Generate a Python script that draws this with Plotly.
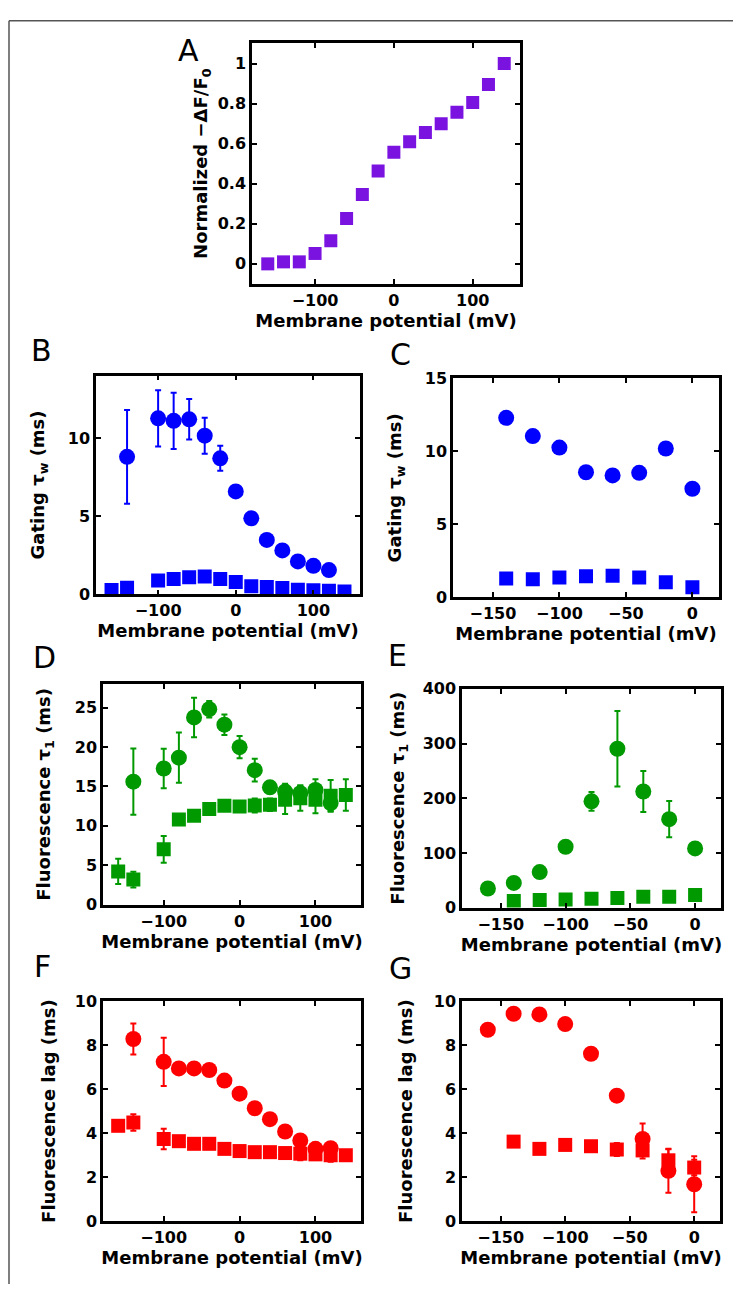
import plotly.graph_objects as go

W, H = 733, 1294

# ---------------- data ----------------
# Panel A
a_v = [-160, -140, -120, -100, -80, -60, -40, -20, 0, 20, 40, 60, 80, 100, 120, 140]
a_f = [0.0, 0.01, 0.01, 0.052, 0.116, 0.226, 0.346, 0.464, 0.557, 0.61, 0.656, 0.70, 0.757, 0.805, 0.895, 1.0]

# Panel B
b_circ_v = [-140, -100, -80, -60, -40, -20, 0, 20, 40, 60, 80, 100, 120]
b_circ = [8.8, 11.26, 11.1, 11.2, 10.15, 8.7, 6.58, 4.86, 3.48, 2.81, 2.1, 1.82, 1.55]
b_circ_err = [3.0, 1.8, 1.8, 1.3, 1.15, 0.8, 0, 0, 0, 0, 0, 0, 0]
b_sq_v = [-160, -140, -100, -80, -60, -40, -20, 0, 20, 40, 60, 80, 100, 120, 140]
b_sq = [0.27, 0.42, 0.88, 0.98, 1.09, 1.13, 0.98, 0.78, 0.52, 0.46, 0.40, 0.29, 0.25, 0.23, 0.17]

# Panel C
c_v = [-140, -120, -100, -80, -60, -40, -20, 0]
c_circ = [12.3, 11.05, 10.26, 8.57, 8.35, 8.53, 10.2, 7.44]
c_sq = [1.29, 1.24, 1.35, 1.44, 1.47, 1.35, 1.02, 0.68]

# Panel D
d_circ_v = [-140, -100, -80, -60, -40, -20, 0, 20, 40, 60, 80, 100, 120]
d_circ = [15.6, 17.27, 18.65, 23.75, 24.8, 22.83, 19.98, 17.06, 14.88, 14.34, 14.13, 14.55, 12.88]
d_circ_err = [4.2, 2.5, 3.2, 2.5, 1.05, 1.3, 1.4, 1.45, 0.5, 1.0, 1.0, 1.35, 1.0]
d_sq_v = [-160, -140, -100, -80, -60, -40, -20, 0, 20, 40, 60, 80, 100, 120, 140]
d_sq = [4.22, 3.18, 7.02, 10.79, 11.29, 12.12, 12.54, 12.46, 12.58, 12.67, 13.3, 13.5, 13.3, 13.8, 13.92]
d_sq_err = [1.6, 1.0, 1.7, 0, 0, 0, 0, 0.6, 0.9, 0.8, 1.8, 1.6, 1.7, 2.0, 2.0]

# Panel E
e_circ_v = [-160, -140, -120, -100, -80, -60, -40, -20, 0]
e_circ = [34.9, 45.1, 65.0, 111.3, 194.3, 290.5, 212.3, 161.8, 108.3]
e_circ_err = [0, 0, 0, 0, 17, 69, 37.6, 33, 0]
e_sq_v = [-140, -120, -100, -80, -60, -40, -20, 0]
e_sq = [12.0, 13.8, 15.0, 16.2, 17.4, 19.8, 19.8, 22.9]

# Panel F
f_circ_v = [-140, -100, -80, -60, -40, -20, 0, 20, 40, 60, 80, 100, 120]
f_circ = [8.28, 7.24, 6.94, 6.94, 6.87, 6.39, 5.79, 5.13, 4.63, 4.07, 3.66, 3.28, 3.31]
f_circ_err = [0.7, 1.1, 0, 0, 0, 0, 0, 0, 0, 0, 0, 0, 0]
f_sq_v = [-160, -140, -100, -80, -60, -40, -20, 0, 20, 40, 60, 80, 100, 120, 140]
f_sq = [4.33, 4.48, 3.73, 3.63, 3.51, 3.51, 3.28, 3.18, 3.13, 3.13, 3.09, 3.06, 3.03, 2.99, 2.99]
f_sq_err = [0, 0.37, 0.47, 0, 0, 0, 0, 0, 0, 0, 0, 0.3, 0, 0.3, 0]

# Panel G
g_circ_v = [-160, -140, -120, -100, -80, -60, -40, -20, 0]
g_circ = [8.7, 9.43, 9.4, 8.96, 7.61, 5.7, 3.73, 2.28, 1.67]
g_circ_err = [0, 0, 0, 0, 0.25, 0, 0.7, 1.0, 1.27]
g_sq_v = [-140, -120, -100, -80, -60, -40, -20, 0]
g_sq = [3.61, 3.28, 3.46, 3.40, 3.25, 3.21, 2.76, 2.43]
g_sq_err = [0, 0, 0, 0, 0.3, 0.37, 0.5, 0.35]

PURPLE = "#7a12e0"
BLUE = "#0000ff"
GREEN = "#009900"
RED = "#ff0000"

XT = "Membrane potential (mV)"
FONT = "DejaVu Sans"

# ---------------- layout geometry (pixels) ----------------
panels = {
    # name: (x0, x1, ytop, ybottom)
    "A": (252, 520, 35, 279),
    "B": (96, 360, 372, 594),
    "C": (453, 719, 375, 597),
    "D": (103, 361, 685, 909),
    "E": (462, 721, 690, 912),
    "F": (103, 361, 1007, 1230),
    "G": (462, 720, 1007, 1230),
}
order = ["A", "B", "C", "D", "E", "F", "G"]
ystandoff = {"A": 6, "B": 19, "C": 19, "D": 20, "E": 14, "F": 15, "G": 17}

fig = go.Figure()


def add_pts(idx, x, y, color, symbol, size, err=None):
    tr = dict(x=x, y=y, mode="markers",
              marker=dict(color=color, symbol=symbol, size=size, line=dict(width=0)),
              xaxis="x" if idx == 1 else f"x{idx}",
              yaxis="y" if idx == 1 else f"y{idx}",
              showlegend=False)
    if err is not None:
        tr["error_y"] = dict(type="data", array=err, visible=True, color=color,
                             thickness=2, width=3)
    fig.add_trace(go.Scatter(**tr))


CS, SS = 16, 14
add_pts(1, a_v, a_f, PURPLE, "square", 13)
add_pts(2, b_circ_v, b_circ, BLUE, "circle", CS, b_circ_err)
add_pts(2, b_sq_v, b_sq, BLUE, "square", SS)
add_pts(3, c_v, c_circ, BLUE, "circle", CS)
add_pts(3, c_v, c_sq, BLUE, "square", SS)
add_pts(4, d_circ_v, d_circ, GREEN, "circle", CS, d_circ_err)
add_pts(4, d_sq_v, d_sq, GREEN, "square", SS, d_sq_err)
add_pts(5, e_circ_v, e_circ, GREEN, "circle", CS, e_circ_err)
add_pts(5, e_sq_v, e_sq, GREEN, "square", SS)
add_pts(6, f_circ_v, f_circ, RED, "circle", CS, f_circ_err)
add_pts(6, f_sq_v, f_sq, RED, "square", SS, f_sq_err)
add_pts(7, g_sq_v, g_sq, RED, "square", SS, g_sq_err)
add_pts(7, g_circ_v, g_circ, RED, "circle", CS, g_circ_err)

xranges = {"A": [-180, 160], "B": [-180, 160], "C": [-180, 20], "D": [-180, 160],
           "E": [-180, 20], "F": [-180, 160], "G": [-180, 20]}
xticks = {"A": [-100, 0, 100], "B": [-100, 0, 100], "C": [-150, -100, -50, 0],
          "D": [-100, 0, 100], "E": [-150, -100, -50, 0], "F": [-100, 0, 100],
          "G": [-150, -100, -50, 0]}
yranges = {"A": [-0.1, 1.1], "B": [0, 14], "C": [0, 15], "D": [0, 28],
           "E": [0, 400], "F": [0, 10], "G": [0, 10]}
yticks = {"A": [0, 0.2, 0.4, 0.6, 0.8, 1], "B": [0, 5, 10], "C": [0, 5, 10, 15],
          "D": [0, 5, 10, 15, 20, 25], "E": [0, 100, 200, 300, 400],
          "F": [0, 2, 4, 6, 8, 10], "G": [0, 2, 4, 6, 8, 10]}
ytitles = {"A": "Normalized −ΔF/F<sub>0</sub>", "B": "Gating τ<sub>w</sub> (ms)",
           "C": "Gating τ<sub>w</sub> (ms)", "D": "Fluorescence τ<sub>1</sub> (ms)",
           "E": "Fluorescence τ<sub>1</sub> (ms)", "F": "Fluorescence lag (ms)",
           "G": "Fluorescence lag (ms)"}

common = dict(showline=True, linecolor="black", linewidth=2.5, mirror="ticks",
              ticks="inside", ticklen=5, tickwidth=2, tickcolor="black",
              showgrid=False, zeroline=False,
              tickfont=dict(family=FONT, size=16, color="black", weight="bold"))

layout = {}
for i, p in enumerate(order, start=1):
    x0, x1, yt, yb = panels[p]
    xk = "xaxis" if i == 1 else f"xaxis{i}"
    yk = "yaxis" if i == 1 else f"yaxis{i}"
    ya = "y" if i == 1 else f"y{i}"
    xa = "x" if i == 1 else f"x{i}"
    layout[xk] = dict(domain=[x0 / W, x1 / W], anchor=ya, range=xranges[p],
                      tickvals=xticks[p],
                      title=dict(text=XT, standoff=5,
                                 font=dict(family=FONT, size=18, color="black", weight="bold")),
                      **common)
    layout[yk] = dict(domain=[1 - yb / H, 1 - yt / H], anchor=xa, range=yranges[p],
                      tickvals=yticks[p],
                      title=dict(text=ytitles[p], standoff=ystandoff[p],
                                 font=dict(family=FONT, size=18, color="black", weight="bold")),
                      **common)

fig.update_layout(**layout)

labels = {"A": (188, 42), "B": (41, 347), "C": (400, 351), "D": (44, 658),
          "E": (397, 656), "F": (42, 972), "G": (400, 974)}
for p, (lx, ly) in labels.items():
    fig.add_annotation(x=lx / W, y=1 - ly / H, xref="paper", yref="paper",
                       text=p, showarrow=False, xanchor="center", yanchor="middle",
                       font=dict(family=FONT, size=30, color="black"))

# outer frame (left and top edges)
fig.add_shape(type="line", xref="paper", yref="paper", x0=9 / W, x1=9 / W,
              y0=1 - 12 / H, y1=0, line=dict(color="#555555", width=1.5))
fig.add_shape(type="line", xref="paper", yref="paper", x0=9 / W, x1=1,
              y0=1 - 12 / H, y1=1 - 12 / H, line=dict(color="#555555", width=1.5))

fig.update_layout(width=W, height=H, autosize=False,
                  margin=dict(l=0, r=0, t=0, b=0),
                  paper_bgcolor="white", plot_bgcolor="white",
                  font=dict(family=FONT, color="black"))

fig.write_html("out.html",
               config={"displayModeBar": False},
               post_script="document.body.style.margin='0';"
                           "document.body.style.overflow='hidden';")
